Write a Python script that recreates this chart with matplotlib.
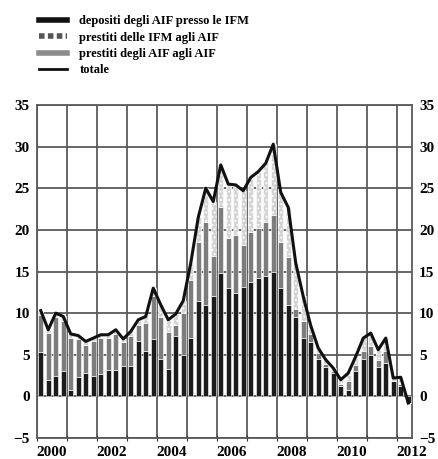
import numpy as np
import matplotlib
matplotlib.use("Agg")
import matplotlib.pyplot as plt
from matplotlib.lines import Line2D

# quarterly data, 2000Q1 - 2012Q2
quarters = np.arange(2000, 2012.5, 0.25) + 0.125

depositi = [5.3, 2.0, 2.4, 3.0, 0.8, 2.3, 2.8, 2.5, 2.7, 3.2, 3.2, 3.6,
            3.6, 6.7, 5.5, 6.9, 4.5, 3.3, 7.3, 5.0, 7.0, 11.5, 11.0, 12.1,
            14.8, 13.0, 12.4, 13.1, 13.7, 14.2, 14.5, 15.0, 13.0, 11.0, 9.5, 7.0,
            6.5, 4.5, 3.5, 2.8, 1.2, 0.8, 3.0, 4.5, 5.0, 3.5, 4.0, 1.8,
            1.2, -0.8]
prestiti_aif = [4.5, 5.6, 7.1, 6.1, 6.2, 4.6, 3.4, 4.1, 4.3, 3.8, 4.3, 2.9,
                3.7, 1.9, 3.3, 5.1, 5.0, 4.4, 1.3, 5.0, 7.0, 7.0, 10.0, 4.8,
                8.0, 6.0, 7.0, 5.1, 6.1, 6.0, 6.5, 6.8, 5.5, 5.7, 1.0, 2.0,
                1.0, 0.7, 0.4, 0.2, 0.3, 1.0, 0.8, 1.0, 1.1, 0.9, 1.5, 0.1,
                0.3, 0.0]
prestiti_ifm = [0.5, 0.4, 0.5, 0.5, 0.5, 0.4, 0.4, 0.4, 0.4, 0.4, 0.5, 0.4,
                0.5, 0.6, 0.8, 1.0, 1.5, 1.5, 1.3, 1.5, 2.0, 3.0, 4.0, 6.5,
                5.0, 6.5, 6.0, 6.5, 6.5, 6.8, 7.0, 8.5, 6.0, 6.0, 5.5, 3.0,
                1.0, 0.6, 0.5, 0.4, 0.5, 1.0, 1.0, 1.5, 1.5, 1.2, 1.5, 0.3,
                0.8, 0.0]
totale = [10.3, 8.0, 10.0, 9.6, 7.5, 7.3, 6.6, 7.0, 7.4, 7.4, 8.0, 6.9,
          7.8, 9.2, 9.6, 13.0, 11.0, 9.2, 9.9, 11.5, 16.0, 21.5, 25.0, 23.4,
          27.8, 25.5, 25.4, 24.7, 26.3, 27.0, 28.0, 30.3, 24.5, 22.7, 16.0, 12.0,
          8.5, 5.8, 4.4, 3.4, 2.0, 2.8, 4.8, 7.0, 7.6, 5.6, 7.0, 2.2,
          2.3, -0.8]

plt.rcParams['font.family'] = ['Liberation Serif', 'DejaVu Serif']
plt.rcParams['hatch.color'] = '#8a8a8a'
plt.rcParams['hatch.linewidth'] = 0.8

fig = plt.figure(figsize=(4.38, 4.59), dpi=100)
ax = fig.add_axes([37/438, 1 - 438/459, 375/438, 333/459])

dep = np.array(depositi)
aif = np.array(prestiti_aif)
ifm = np.array(prestiti_ifm)
w = 0.17
ax.bar(quarters, dep, w, color='#1c1c1c', edgecolor='white', linewidth=0.4, zorder=3)
ax.bar(quarters, aif, w, bottom=dep, color='#7d7d7d', edgecolor='white', linewidth=0.4, zorder=3)
ax.bar(quarters, ifm, w, bottom=dep + aif, color='#d4d4d4', edgecolor='white',
       linewidth=0.4, hatch='....', zorder=3)
ax.plot(quarters, totale, color='#111111', lw=2.2, zorder=4)

ax.set_xlim(2000, 2012.5)
ax.set_ylim(-5, 35)
ax.set_yticks(range(-5, 36, 5))
ax.set_xticks(range(2000, 2013))
ax.set_xticks(np.arange(2000.5, 2013, 2), minor=True)
ax.set_xticklabels([])
ax.set_xticklabels([str(y) for y in range(2000, 2013, 2)], minor=True)
ax.grid(True, which='major', color='#5a5a5a', lw=1.3, zorder=0)
ax.set_axisbelow(True)
ax.tick_params(axis='y', length=0, labelsize=11, left=True, right=True,
               labelleft=True, labelright=True, pad=5)
ax.tick_params(axis='x', which='major', length=4, direction='inout', color='#333')
ax.tick_params(axis='x', which='minor', length=0, labelsize=11, pad=6)
for t in ax.get_yticklabels() + ax.get_xticklabels(minor=True):
    t.set_fontweight('bold')
for s in ax.spines.values():
    s.set_color('#5a5a5a')
    s.set_linewidth(1.3)

handles = [Line2D([], [], color='#111111', lw=4),
           Line2D([], [], color='#555555', lw=4, linestyle=(0, (1, 0.6))),
           Line2D([], [], color='#8c8c8c', lw=4),
           Line2D([], [], color='#111111', lw=2)]
labels = ['depositi degli AIF presso le IFM', 'prestiti delle IFM agli AIF',
          'prestiti degli AIF agli AIF', 'totale']
fig.legend(handles, labels, loc='upper left', bbox_to_anchor=(28/438, 1 - 4/459),
           frameon=False, handlelength=2.2, labelspacing=0.35,
           handletextpad=1.0, prop={'weight': 'bold', 'size': 9})

fig.savefig('out.png', dpi=100)
